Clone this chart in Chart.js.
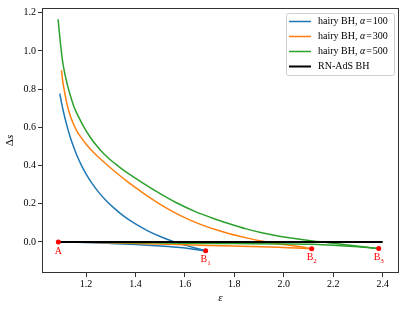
<!DOCTYPE html>
<html>
<head>
<meta charset="utf-8">
<script src="https://cdn.jsdelivr.net/npm/chart.js@4.4.0/dist/chart.umd.min.js"></script>
<style>
  html, body { margin: 0; padding: 0; background: #fff; }
</style>
</head>
<body>
<canvas id="chart" width="407" height="312"></canvas>
<script>
// tick values
var xTicks = [1.2, 1.4, 1.6, 1.8, 2.0, 2.2, 2.4];
var yTicks = [0.0, 0.2, 0.4, 0.6, 0.8, 1.0, 1.2];

// hairy BH, alpha = 100 (upper branch down to B1, lower branch from A)
var epsBlueUp = [1.094, 1.10, 1.11, 1.12, 1.135, 1.15, 1.165, 1.18, 1.20, 1.225, 1.25, 1.28, 1.31, 1.35, 1.40, 1.45, 1.50, 1.55, 1.60, 1.65, 1.684];
var dsBlueUp  = [0.777, 0.735, 0.675, 0.622, 0.553, 0.497, 0.447, 0.405, 0.356, 0.305, 0.262, 0.218, 0.181, 0.138, 0.094, 0.058, 0.028, 0.003, -0.017, -0.035, -0.047];
var epsBlueLow = [1.088, 1.20, 1.30, 1.40, 1.50, 1.58, 1.684];
var dsBlueLow  = [0.0, -0.003, -0.008, -0.014, -0.022, -0.030, -0.047];

// hairy BH, alpha = 300
var epsOrangeUp = [1.101, 1.105, 1.11, 1.12, 1.13, 1.145, 1.162, 1.18, 1.204, 1.23, 1.254, 1.30, 1.365, 1.43, 1.50, 1.58, 1.66, 1.72, 1.78, 1.85, 1.915, 1.95, 2.00, 2.06, 2.113];
var dsOrangeUp  = [0.899, 0.850, 0.809, 0.740, 0.687, 0.630, 0.583, 0.547, 0.506, 0.469, 0.439, 0.387, 0.318, 0.257, 0.197, 0.139, 0.093, 0.066, 0.043, 0.021, 0.003, -0.005, -0.014, -0.024, -0.036];
var epsOrangeLow = [1.088, 1.20, 1.40, 1.60, 1.80, 2.00, 2.113];
var dsOrangeLow  = [0.0, -0.002, -0.008, -0.015, -0.022, -0.029, -0.036];

// hairy BH, alpha = 500
var epsGreenUp = [1.087, 1.097, 1.107, 1.124, 1.137, 1.150, 1.17, 1.19, 1.215, 1.244, 1.27, 1.298, 1.33, 1.36, 1.432, 1.50, 1.566, 1.64, 1.713, 1.78, 1.848, 1.915, 1.982, 2.05, 2.116, 2.18, 2.25, 2.32, 2.384];
var dsGreenUp  = [1.166, 1.035, 0.931, 0.826, 0.765, 0.712, 0.655, 0.605, 0.552, 0.502, 0.464, 0.430, 0.397, 0.368, 0.307, 0.253, 0.205, 0.160, 0.124, 0.095, 0.068, 0.047, 0.030, 0.016, 0.005, -0.004, -0.015, -0.025, -0.035];
var epsGreenLow = [1.088, 1.20, 1.40, 1.60, 1.80, 2.00, 2.116, 2.30, 2.384];
var dsGreenLow  = [0.0, -0.001, -0.004, -0.007, -0.009, -0.011, -0.013, -0.026, -0.035];

// RN-AdS BH
var epsRN = [1.088, 2.40];
var dsRN  = [0.0, 0.0];

// marked points A, B1, B2, B3
var markEps = [1.088, 1.684, 2.113, 2.384];
var markDs  = [0.0, -0.047, -0.036, -0.035];
var markName = ['A', 'B', 'B', 'B'];
var markSub  = ['', '1', '2', '3'];

var legendNames = ['hairy BH, ', 'hairy BH, ', 'hairy BH, ', 'RN-AdS BH'];
var legendAlpha = ['100', '300', '500', null];
var legendColors = ['#1f77b4', '#ff7f0e', '#2ca02c', '#000000'];

var SERIF = '"Liberation Serif", "DejaVu Serif", serif';

function pts(xs, ys) {
    return xs.map(function(x, i){ return {x: x, y: ys[i]}; });
}

function lineSet(xs, ys, color, order, width) {
    return {
        data: pts(xs, ys),
        showLine: true,
        borderColor: color,
        borderWidth: width || 1.5,
        pointRadius: 0,
        cubicInterpolationMode: 'monotone',
        order: order
    };
}

var decorations = {
    id: 'decorations',
    afterDatasetsDraw: function(chart){
        var ctx = chart.ctx, xs = chart.scales.x, ys = chart.scales.y;
        ctx.save();
        // point labels
        ctx.fillStyle = 'red';
        ctx.textBaseline = 'top';
        ctx.textAlign = 'left';
        markEps.forEach(function(e, i){
            var px = xs.getPixelForValue(e), py = ys.getPixelForValue(markDs[i]);
            ctx.font = '10px ' + SERIF;
            var w1 = ctx.measureText(markName[i]).width;
            ctx.font = '7px ' + SERIF;
            var w2 = markSub[i] ? ctx.measureText(markSub[i]).width : 0;
            var x0 = px - (w1 + w2) / 2;
            ctx.font = '10px ' + SERIF;
            ctx.fillText(markName[i], x0, py + 4);
            if (markSub[i]) {
                ctx.font = '7px ' + SERIF;
                ctx.fillText(markSub[i], x0 + w1, py + 9);
            }
        });
        ctx.restore();
    },
    afterDraw: function(chart){
        var ctx = chart.ctx, a = chart.chartArea;
        ctx.save();
        // frame
        ctx.strokeStyle = '#333';
        ctx.lineWidth = 1;
        ctx.strokeRect(a.left + 0.5, a.top + 0.5, a.right - a.left - 1, a.bottom - a.top - 1);

        // axis titles
        ctx.fillStyle = '#000';
        ctx.textBaseline = 'middle';
        ctx.textAlign = 'center';
        ctx.font = 'italic 11px ' + SERIF;
        ctx.fillText('\u03b5', (a.left + a.right) / 2, 298);

        ctx.translate(10, (a.top + a.bottom) / 2);
        ctx.rotate(-Math.PI / 2);
        ctx.font = '11px ' + SERIF;
        var wd = ctx.measureText('\u0394').width;
        ctx.font = 'italic 11px ' + SERIF;
        var ws = ctx.measureText('s').width;
        ctx.textAlign = 'left';
        ctx.font = '11px ' + SERIF;
        ctx.fillText('\u0394', -(wd + ws) / 2, 0);
        ctx.font = 'italic 11px ' + SERIF;
        ctx.fillText('s', -(wd + ws) / 2 + wd, 0);
        ctx.restore();

        // legend
        ctx.save();
        var bx = a.right - 113, by = a.top + 5, bw = 108, bh = 62;
        ctx.fillStyle = 'rgba(255,255,255,0.8)';
        ctx.strokeStyle = '#d0d0d0';
        ctx.lineWidth = 1;
        ctx.beginPath();
        ctx.roundRect(bx + 0.5, by + 0.5, bw, bh, 2);
        ctx.fill();
        ctx.stroke();
        ctx.textBaseline = 'middle';
        ctx.textAlign = 'left';
        legendNames.forEach(function(name, i){
            var y = by + 8.5 + i * 15;
            ctx.strokeStyle = legendColors[i];
            ctx.lineWidth = i === 3 ? 2 : 1.5;
            ctx.beginPath();
            ctx.moveTo(bx + 3, y);
            ctx.lineTo(bx + 25, y);
            ctx.stroke();
            ctx.fillStyle = '#000';
            var tx = bx + 32;
            ctx.font = '10px ' + SERIF;
            ctx.fillText(name, tx, y);
            if (legendAlpha[i]) {
                tx += ctx.measureText(name).width;
                ctx.font = 'italic 10px ' + SERIF;
                ctx.fillText('\u03b1', tx, y);
                tx += ctx.measureText('\u03b1').width + 1;
                ctx.font = '10px ' + SERIF;
                ctx.fillText('=', tx, y);
                tx += ctx.measureText('=').width + 1;
                ctx.fillText(legendAlpha[i], tx, y);
            }
        });
        ctx.restore();
    }
};

var ctx = document.getElementById('chart').getContext('2d');
var chart = new Chart(ctx, {
    type: 'scatter',
    data: {
        datasets: [
            {
                data: pts(markEps, markDs),
                pointRadius: 2.5,
                pointBackgroundColor: 'red',
                pointBorderWidth: 0,
                showLine: false,
                order: 0
            },
            lineSet(epsRN, dsRN, '#000000', 1, 2),
            lineSet(epsGreenUp, dsGreenUp, '#2ca02c', 2),
            lineSet(epsGreenLow, dsGreenLow, '#2ca02c', 2),
            lineSet(epsOrangeUp, dsOrangeUp, '#ff7f0e', 3),
            lineSet(epsOrangeLow, dsOrangeLow, '#ff7f0e', 3),
            lineSet(epsBlueUp, dsBlueUp, '#1f77b4', 4),
            lineSet(epsBlueLow, dsBlueLow, '#1f77b4', 4)
        ]
    },
    options: {
        responsive: false,
        animation: false,
        devicePixelRatio: 1,
        layout: { padding: { top: 7, right: 8, left: 0, bottom: 0 } },
        plugins: { legend: { display: false }, tooltip: { enabled: false } },
        scales: {
            x: {
                type: 'linear',
                min: 1.022,
                max: 2.466,
                afterBuildTicks: function(s){ s.ticks = xTicks.map(function(v){ return {value: v}; }); },
                afterFit: function(s){ s.height = 39; },
                ticks: {
                    callback: function(v){ return v.toFixed(1); },
                    font: { family: SERIF, size: 10 },
                    color: '#000',
                    maxRotation: 0,
                    autoSkip: false,
                    padding: 1
                },
                grid: { drawOnChartArea: false, drawTicks: true, tickLength: 4, color: '#333' },
                border: { display: false }
            },
            y: {
                type: 'linear',
                min: -0.163,
                max: 1.225,
                afterBuildTicks: function(s){ s.ticks = yTicks.map(function(v){ return {value: v}; }); },
                afterFit: function(s){ s.width = 42; },
                ticks: {
                    callback: function(v){ return v.toFixed(1); },
                    font: { family: SERIF, size: 10 },
                    color: '#000',
                    autoSkip: false,
                    padding: 2
                },
                grid: { drawOnChartArea: false, drawTicks: true, tickLength: 4, color: '#333' },
                border: { display: false }
            }
        }
    },
    plugins: [decorations]
});
</script>
</body>
</html>
